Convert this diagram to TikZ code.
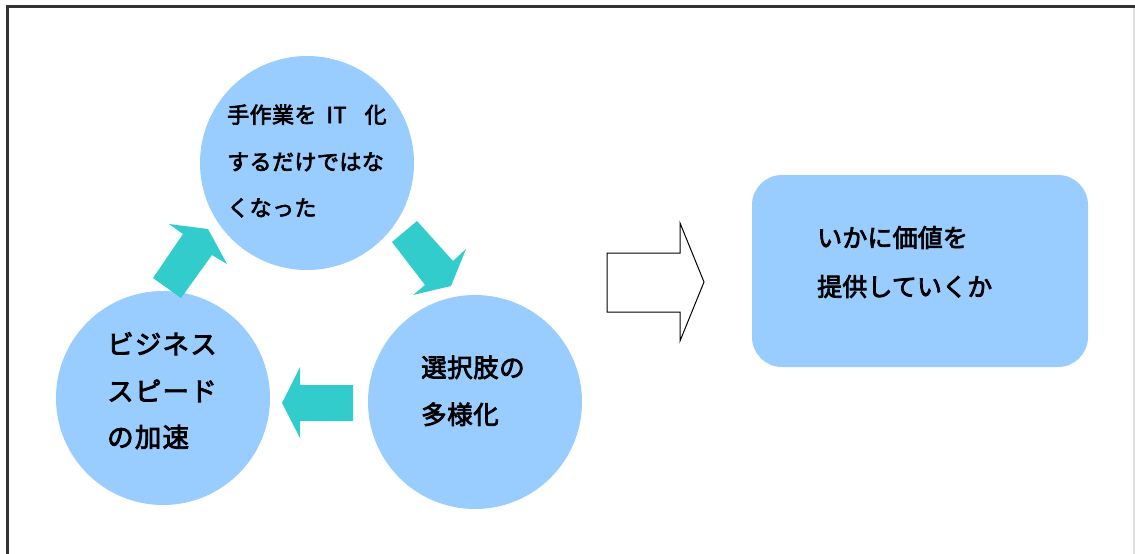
\documentclass[tikz,border=0pt]{standalone}
\usepackage{fontspec}
\newfontfamily\jp{Noto Sans CJK JP}[FakeBold=3]
\definecolor{bubble}{HTML}{99CCFF}
\definecolor{teal}{HTML}{33CCCC}
\definecolor{framec}{HTML}{333333}
\definecolor{framer}{HTML}{DDDDDD}
\begin{document}
\begin{tikzpicture}[x=1pt,y=-1pt,
  circ/.style={circle,fill=bubble,minimum size=214pt,inner sep=0pt},
  boxst/.style={rounded corners=30pt,fill=bubble},
  tarrow/.style={fill=teal},
  harrow/.style={draw=black,line width=1pt,fill=white,line join=miter},
  txtA/.style={anchor=base west,inner sep=0pt,font=\jp\fontsize{22}{24}\selectfont\addfontfeature{LetterSpace=2}},
  txtB/.style={anchor=base west,inner sep=0pt,font=\jp\fontsize{26.5}{28}\selectfont\addfontfeature{LetterSpace=4.5}},
  txtC/.style={anchor=base west,inner sep=0pt,font=\jp\fontsize{25.5}{28}\selectfont\addfontfeature{LetterSpace=2}},
  txtD/.style={anchor=base west,inner sep=0pt,font=\jp\fontsize{25}{28}\selectfont\addfontfeature{LetterSpace=0.5}}]
\useasboundingbox (0,0) rectangle (1135,554);
\fill[white] (0,0) rectangle (1135,554);
% frame
\draw[framer,line width=1.5pt] (1134,6.5) -- (1134,554);
\draw[framec,line width=2.2pt] (7.5,554) -- (7.5,6.5) -- (1135,6.5);
% circles
\node[circ] (top) at (307,163) {};
\node[circ] (bl) at (163,398) {};
\node[circ] (br) at (475,402) {};
% teal arrows
\fill[tarrow] (153,278) -- (181,298) -- (212,255) -- (227,264) -- (208,229) -- (169,224) -- (183,234) -- cycle;
\fill[tarrow] (392,242) -- (417,221) -- (453,261) -- (466,249) -- (451,286) -- (413,295) -- (425,285) -- cycle;
\fill[tarrow] (353,385) -- (353,421) -- (300,421) -- (300,438) -- (282,403) -- (300,367) -- (300,385) -- cycle;
% hollow arrow
\draw[harrow] (607,253) -- (680,253) -- (680,223) -- (704,282) -- (680,341) -- (680,312) -- (607,312) -- cycle;
% result box
\node[boxst,minimum width=336pt,minimum height=192pt,inner sep=0pt] (res) at (920,271) {};
% texts
\node[txtA] (t1) at (227,123) {手作業を\hspace{10pt}IT\hspace{18pt}化};
\node[txtA] (t2) at (227,170) {するだけではな};
\node[txtA] (t3) at (227,216) {くなった};
\node[txtB] (b1) at (107,354) {ビジネス};
\node[txtB] (b2) at (107,401) {スピード};
\node[txtB] (b3) at (107,447) {の加速};
\node[txtC] (r1) at (421,377) {選択肢の};
\node[txtC] (r2) at (421,424) {多様化};
\node[txtD] (x1) at (817,247) {いかに価値を};
\node[txtD] (x2) at (817,296) {提供していくか};
\end{tikzpicture}
\end{document}
